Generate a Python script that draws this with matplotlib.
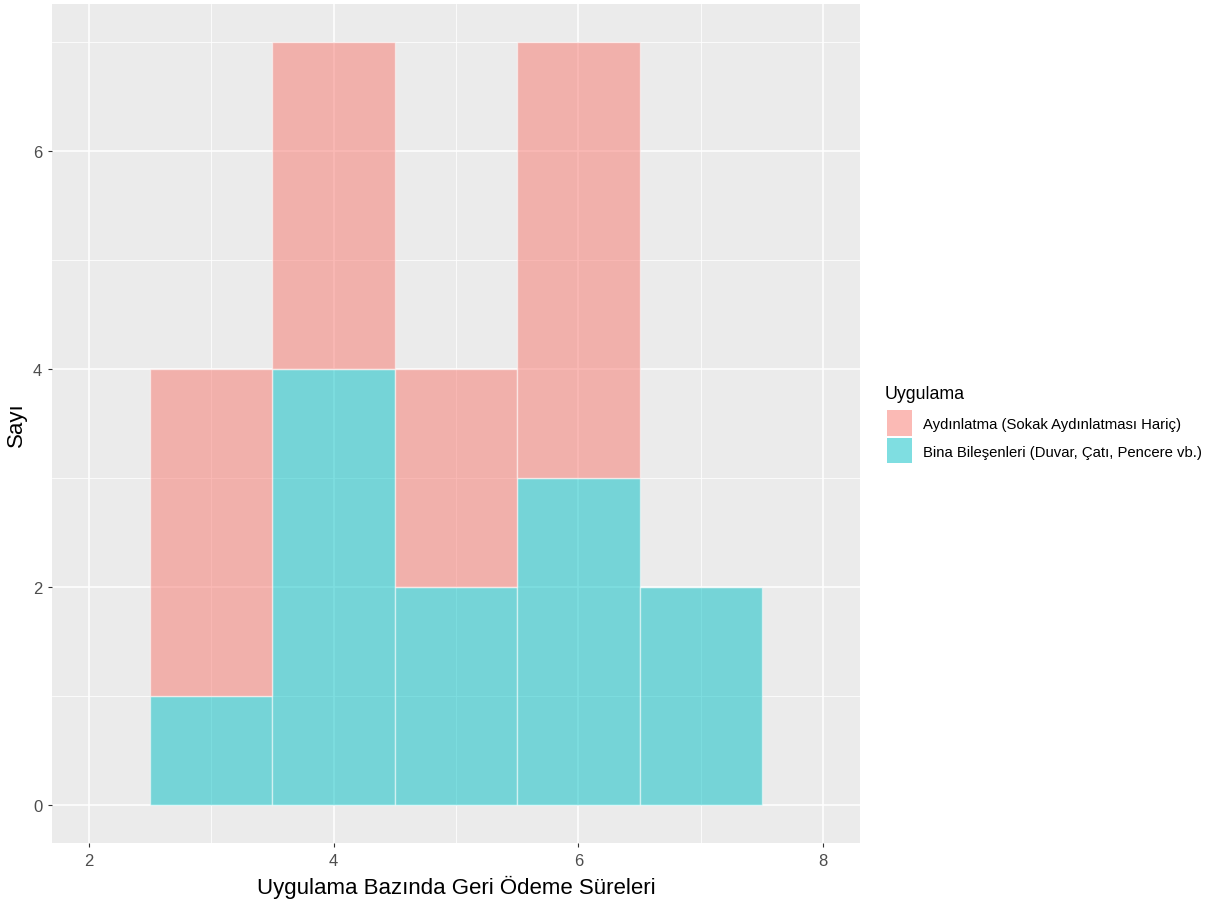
import matplotlib
matplotlib.use("Agg")
import matplotlib.pyplot as plt
from matplotlib.patches import Patch
import numpy as np

plt.rcParams['font.family'] = ['Liberation Sans', 'DejaVu Sans']

bin_centers = [3, 4, 5, 6, 7]
bina = [1, 4, 2, 3, 2]
aydinlatma = [3, 3, 2, 4, 0]
series_names = ["Aydınlatma (Sokak Aydınlatması Hariç)",
                "Bina Bileşenleri (Duvar, Çatı, Pencere vb.)"]
legend_title = "Uygulama"
x_ticks = [2, 4, 6, 8]
y_ticks = [0, 2, 4, 6]

col_a = '#F8766D'
col_b = '#00BFC4'
alpha = 0.5

W, H = 1210, 904
fig = plt.figure(figsize=(W/100, H/100), dpi=100)
ax = fig.add_axes([52/W, 1 - 844/H, (860-52)/W, (844-5)/H])
ax.set_facecolor('#EBEBEB')
for s in ax.spines.values():
    s.set_visible(False)

ax.set_xlim(1.7, 8.3)
ax.set_ylim(-0.35, 7.35)
ax.set_xticks(x_ticks)
ax.set_yticks(y_ticks)
ax.set_xticks([3, 5, 7], minor=True)
ax.set_yticks([1, 3, 5, 7], minor=True)
ax.grid(True, which='major', color='white', linewidth=1.1)
ax.grid(True, which='minor', color='white', linewidth=0.55)
ax.set_axisbelow(True)
ax.tick_params(which='major', length=3, color='#333333', labelsize=12, labelcolor='#4D4D4D', pad=4)
ax.tick_params(which='minor', length=0)

ax.bar(bin_centers, bina, width=1, color=col_b, alpha=alpha, edgecolor='white', linewidth=1)
ax.bar(bin_centers, aydinlatma, bottom=bina, width=1, color=col_a, alpha=alpha, edgecolor='white', linewidth=1)

ax.set_xlabel("Uygulama Bazında Geri Ödeme Süreleri", fontsize=16, labelpad=5)
ax.set_ylabel("Sayı", fontsize=16, labelpad=4)

fig.text(885/W, 1 - 395/H, legend_title, fontsize=12.8, ha='left', va='center')
handles = [Patch(facecolor=col_a, alpha=alpha, edgecolor='none'),
           Patch(facecolor=col_b, alpha=alpha, edgecolor='none')]
leg = fig.legend(handles, series_names,
                 loc='upper left', bbox_to_anchor=(886/W, 1 - 410/H),
                 frameon=False, fontsize=10.75,
                 handlelength=1.67, handleheight=2.2, handletextpad=0.7,
                 labelspacing=0.2, borderaxespad=0, borderpad=0.1)

fig.savefig('out.png', dpi=100)
